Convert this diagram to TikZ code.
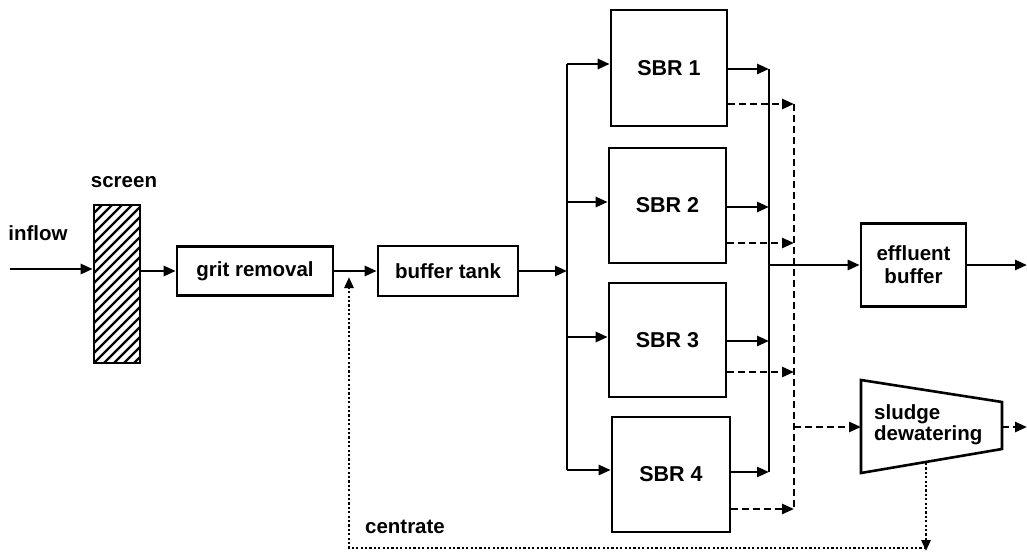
\documentclass[tikz,border=0pt]{standalone}
\usepackage{fontspec}
\setmainfont{Liberation Sans}
\usetikzlibrary{arrows.meta,calc}
\begin{document}
\begin{tikzpicture}[x=1pt,y=-1pt,
  font=\fontsize{20.5}{23}\selectfont\bfseries,
  box/.style={draw,line width=2.6pt,inner sep=0pt},
  ln/.style={line width=2.6pt},
  arr/.style={line width=2.6pt,-{Triangle[length=12pt,width=10pt]}},
  dasharr/.style={line width=2.6pt,dash pattern=on 7pt off 4pt,-{Triangle[length=12pt,width=10pt]}},
  dsh/.style={line width=2.6pt,dash pattern=on 7pt off 4pt},
  dotarr/.style={line width=2.6pt,dash pattern=on 2.2pt off 2.2pt,-{Triangle[length=11pt,width=9pt]}},
  lbl/.style={inner sep=0pt}]
\useasboundingbox (0,0) rectangle (1027,554);
\fill[white] (0,0) rectangle (1027,554);

% labels
\node[lbl] (inflowlbl) at (38,233) {inflow};
\node[lbl] (screenlbl) at (124,182) {screen};
\node[lbl] (centratelbl) at (405,527) {centrate};

% screen (hatched)
\node[box,minimum width=46pt,minimum height=158pt] (screen) at (117,284) {};
\begin{scope}
  \clip (94,205) rectangle (140,363);
  \foreach \i in {-170,-160,...,60}
    \draw[line width=2.4pt] (94+\i,363) -- ++(170,-170);
\end{scope}
\node[box,minimum width=46pt,minimum height=158pt] at (117,284) {};

% boxes
\node[box,minimum width=156pt,minimum height=49pt] (grit) at (255,271) {grit removal};
\node[box,minimum width=140pt,minimum height=50pt] (buffer) at (448,271) {buffer tank};
\node[box,minimum width=116pt,minimum height=116pt,font=\fontsize{21.5}{24}\selectfont\bfseries] (sbr1) at (669,68) {SBR 1};
\node[box,minimum width=117pt,minimum height=115pt,font=\fontsize{21.5}{24}\selectfont\bfseries] (sbr2) at (667.5,205.5) {SBR 2};
\node[box,minimum width=117pt,minimum height=114pt,font=\fontsize{21.5}{24}\selectfont\bfseries] (sbr3) at (667.5,340) {SBR 3};
\node[box,minimum width=118pt,minimum height=115pt,font=\fontsize{21.5}{24}\selectfont\bfseries] (sbr4) at (671,474.5) {SBR 4};
\node[box,minimum width=105pt,minimum height=83pt,align=center] (eff) at (913.5,265) {effluent\\buffer};

% sludge dewatering trapezoid
\coordinate (tl) at (861,380);
\coordinate (tr) at (1002,402);
\coordinate (br) at (1002,449);
\coordinate (bl) at (861,473);
\draw[ln,line join=miter] (tl) -- (tr) -- (br) -- (bl) -- cycle;
\node[lbl,anchor=west,align=left,font=\fontsize{20.5}{21}\selectfont\bfseries] (dw) at (874,425) {sludge\\dewatering};

% inflow
\coordinate (in) at (10,269);
\draw[arr] (in) -- (in -| screen.west);
\draw[arr] (screen.east |- grit) -- (grit.west);
\draw[arr] (grit.east) -- (buffer.west);

% distribution bus
\coordinate (b1) at (567,64);
\coordinate (b2) at (567,202);
\coordinate (b3) at (567,337);
\coordinate (b4) at (567,470);
\draw[ln] (b1) -- (b4);
\draw[arr] (buffer.east) -- (buffer.east -| b1);
\draw[arr] (b1) -- (b1 -| sbr1.west);
\draw[arr] (b2) -- (b2 -| sbr2.west);
\draw[arr] (b3) -- (b3 -| sbr3.west);
\draw[arr] (b4) -- (b4 -| sbr4.west);

% effluent collector
\coordinate (c1) at (769,69);
\coordinate (c2) at (769,207);
\coordinate (c3) at (769,341);
\coordinate (c4) at (769,472);
\draw[ln] (c1) -- (c4);
\draw[arr] (c1 -| sbr1.east) -- (c1);
\draw[arr] (c2 -| sbr2.east) -- (c2);
\draw[arr] (c3 -| sbr3.east) -- (c3);
\draw[arr] (c4 -| sbr4.east) -- (c4);
\draw[arr] (eff.west -| c1) -- (eff.west);
\coordinate (effout) at (1027,265);
\draw[arr] (eff.east) -- (effout);

% sludge collector
\coordinate (d1) at (794,104);
\coordinate (d2) at (794,243);
\coordinate (d3) at (794,372);
\coordinate (d4) at (794,509);
\draw[dsh] (d1) -- (d4);
\draw[dasharr] (d1 -| sbr1.east) -- (d1);
\draw[dasharr] (d2 -| sbr2.east) -- (d2);
\draw[dasharr] (d3 -| sbr3.east) -- (d3);
\draw[dasharr] (d4 -| sbr4.east) -- (d4);
\coordinate (dj) at (794,427);
\coordinate (dwin) at (861,427);
\draw[dasharr] (dj) -- (dwin);
\coordinate (dwout) at (1002,427);
\coordinate (sout) at (1027,427);
\draw[dasharr] (dwout) -- (sout);

% centrate return
\coordinate (dwb) at (926,463);
\coordinate (cdown) at (926,551);
\coordinate (ccorner) at (926,548);
\coordinate (cret) at (349,277);
\draw[dotarr] (dwb) -- (cdown);
\draw[dotarr] (ccorner) -| (cret);
\end{tikzpicture}
\end{document}
